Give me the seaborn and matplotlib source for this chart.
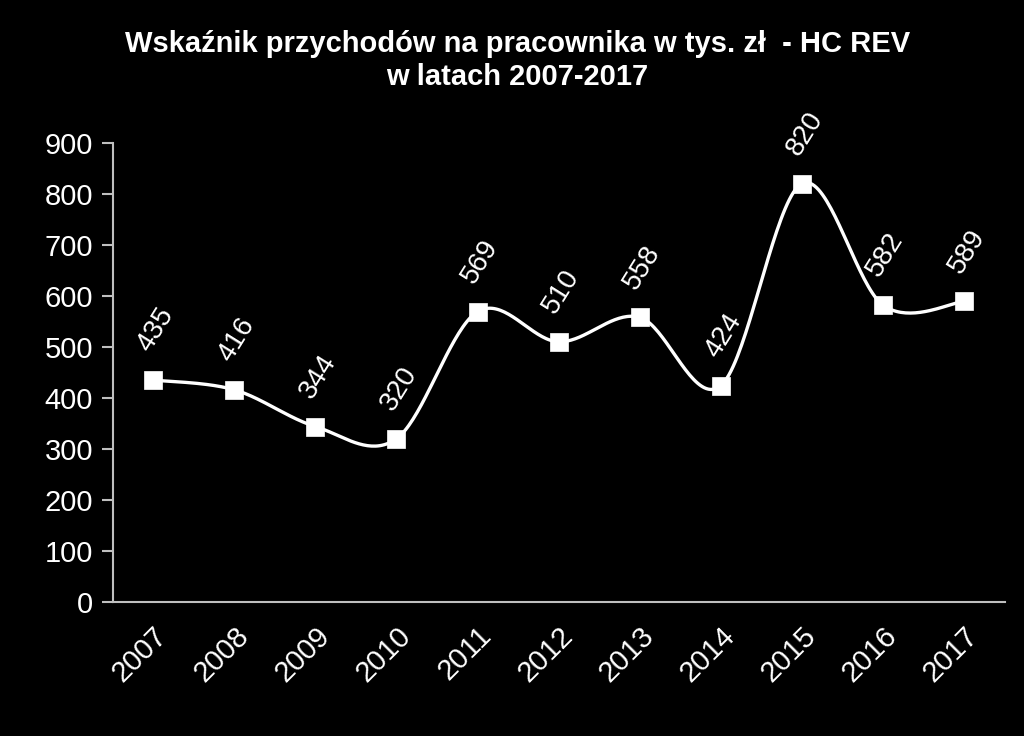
import numpy as np
import pandas as pd
import matplotlib
matplotlib.use("Agg")
import matplotlib.pyplot as plt
import seaborn as sns

years = ["2007", "2008", "2009", "2010", "2011", "2012", "2013", "2014", "2015", "2016", "2017"]
values = [435, 416, 344, 320, 569, 510, 558, 424, 820, 582, 589]
title = "Wskaźnik przychodów na pracownika w tys. zł  - HC REV\nw latach 2007-2017"

sns.set_style("dark")
plt.rcParams["font.family"] = ["Liberation Sans", "DejaVu Sans"]

fig = plt.figure(figsize=(10.24, 7.36), dpi=100, facecolor="black")
ax = fig.add_axes([0.110, 0.182, 0.871, 0.624])
ax.set_facecolor("black")

x = np.arange(len(values), dtype=float)
y = np.array(values, dtype=float)

# Catmull-Rom style smoothing (like spreadsheet "smoothed line")
P = np.column_stack([x, y])
Pext = np.vstack([P[0], P, P[-1]])
curve = []
t = np.linspace(0, 1, 40)
for i in range(len(P) - 1):
    p0, p1, p2, p3 = Pext[i], Pext[i + 1], Pext[i + 2], Pext[i + 3]
    c1 = p1 + (p2 - p0) / 6.0
    c2 = p2 - (p3 - p1) / 6.0
    seg = ((1 - t) ** 3)[:, None] * p1 + (3 * (1 - t) ** 2 * t)[:, None] * c1 \
        + (3 * (1 - t) * t ** 2)[:, None] * c2 + (t ** 3)[:, None] * p2
    curve.append(seg if i == 0 else seg[1:])
curve = np.vstack(curve)
smooth = pd.DataFrame({"x": curve[:, 0], "y": curve[:, 1]})
pts = pd.DataFrame({"x": x, "y": y})

sns.lineplot(data=smooth, x="x", y="y", ax=ax, color="white", linewidth=2.4, sort=False, zorder=2)
sns.scatterplot(data=pts, x="x", y="y", ax=ax, marker="s", s=170, color="white",
                edgecolor="white", linewidth=0.5, zorder=3)

for xi, yi in zip(x, y):
    ax.annotate(f"{int(yi)}", (xi, yi), xytext=(2, 36), textcoords="offset points",
                ha="center", va="center", rotation=58, color="white", fontsize=20)

ax.set_xlim(-0.5, len(values) - 0.5)
ax.set_ylim(0, 900)
ax.set_yticks(range(0, 901, 100))
ax.set_xticks(x)
ax.set_xticklabels(years, rotation=45, ha="right", rotation_mode="anchor")
ax.set_xticks(np.arange(-0.5, len(values), 1.0), minor=True)
ax.tick_params(axis="x", which="major", length=0, pad=14, colors="white", labelsize=21)
ax.tick_params(axis="x", which="minor", length=8, width=1.5, color="#bfbfbf", direction="out")
ax.tick_params(axis="y", length=8, width=1.5, color="#bfbfbf", labelcolor="white", labelsize=21,
               direction="out", pad=6, left=True)
ax.set_xlabel("")
ax.set_ylabel("")
ax.grid(False)
for s in ["top", "right"]:
    ax.spines[s].set_visible(False)
for s in ["left", "bottom"]:
    ax.spines[s].set_visible(True)
    ax.spines[s].set_color("#bfbfbf")
    ax.spines[s].set_linewidth(1.5)

fig.text(0.505, 0.918, title, ha="center", va="center", color="white", fontsize=21,
         fontweight="bold", linespacing=1.2)

fig.savefig("out.png", dpi=100, facecolor="black")
